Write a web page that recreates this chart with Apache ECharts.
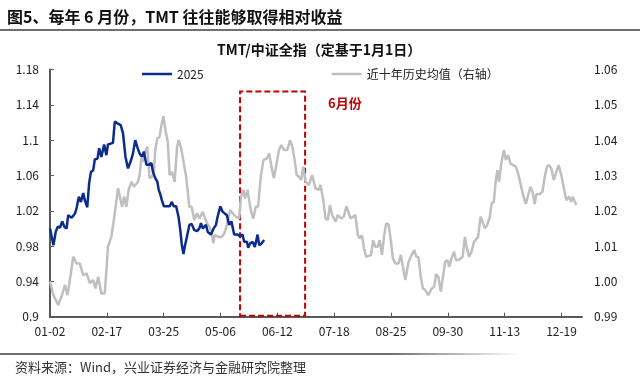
<!DOCTYPE html>
<html lang="zh">
<head>
<meta charset="utf-8">
<script src="https://cdn.jsdelivr.net/npm/echarts@6/dist/echarts.min.js"></script>
<title>TMT/中证全指</title>
</head>
<body style="margin: 0; background: #fff">
<div id="container" style="width: 640px; height: 377px"></div>
<script>
// x axis: trading-day index, labelled every 25 days
const tickDays = [0, 25, 50, 75, 100, 125, 150, 175, 200, 225];
const tickLabels = ['01-02', '02-17', '03-25', '05-06', '06-12', '07-18', '08-25', '09-30', '11-13', '12-19'];
const leftTicks = [0.9, 0.94, 0.98, 1.02, 1.06, 1.1, 1.14, 1.18];
const rightTicks = [0.99, 1.00, 1.01, 1.02, 1.03, 1.04, 1.05, 1.06];

// 2025 (left axis)
const blueDay = [0, 1.5, 2.5, 3.4, 4.4, 5.4, 6.3, 7.3, 8, 9.5, 11, 11.7, 12.7, 13.6, 14.6, 15.3, 16.4, 17.2, 18, 19,
  19.7, 20.9, 21.6, 22.6, 23.8, 24.8, 25.5, 26.7, 27.7, 28.5, 29.7, 31.1, 32.1, 33.2, 34.3, 35.5, 36.5, 37.5, 38.4, 39.4,
  40.4, 41.3, 42.4, 43.4, 44.6, 45.3, 46.3, 47.2, 47.8, 48.6, 49.2, 50.1, 51.6, 52.6, 53.6, 54.4, 55.5, 55.9, 56.6, 57.4,
  57.9, 58.7, 59.4, 60.1, 61.3, 62.3, 63.5, 64.7, 65.7, 66.4, 67.2, 67.9, 68.6, 69.4, 70.1, 70.8, 72, 73, 73.7, 74.9,
  75.9, 76.7, 77.8, 78.8, 79.8, 81, 82.5, 83.7, 84.7, 85.4, 86.6, 87.2, 88, 89.1, 90.1, 91.3, 92, 93, 94.2];
const blueValue = [1.000, 0.981, 0.996, 1.002, 1.001, 1.008, 1.002, 1.000, 1.015, 1.012, 1.017, 1.023, 1.036, 1.030, 1.040, 1.032, 1.024, 1.051, 1.064, 1.066,
  1.078, 1.079, 1.091, 1.081, 1.095, 1.083, 1.095, 1.096, 1.097, 1.121, 1.119, 1.117, 1.108, 1.081, 1.068, 1.076, 1.085, 1.100, 1.092, 1.085,
  1.081, 1.087, 1.072, 1.072, 1.074, 1.064, 1.057, 1.053, 1.044, 1.038, 1.032, 1.025, 1.025, 1.025, 1.030, 1.025, 1.025, 1.023, 1.012, 0.996,
  0.983, 0.971, 0.981, 0.989, 1.004, 1.005, 0.998, 0.997, 1.000, 1.006, 1.000, 1.002, 1.004, 0.996, 0.998, 0.993, 1.000, 1.004, 1.013, 1.025,
  1.019, 1.021, 1.015, 1.004, 1.008, 0.993, 0.993, 0.991, 0.993, 0.985, 0.985, 0.978, 0.983, 0.985, 0.979, 0.993, 0.981, 0.983, 0.987];

// 近十年历史均值 (right axis)
const avgDay = [0, 1.5, 3.6, 5.1, 6.6, 7.7, 9.2, 10.2, 11.7, 13.1, 14.6, 16.1, 17.5, 19, 20, 21.2, 22.6, 24.1, 25.5, 27,
  28.5, 29.9, 30.7, 31.7, 32.6, 33.6, 34.6, 35.8, 36.9, 38.7, 39.4, 40.2, 40.9, 41.6, 42.8, 43.8, 44.8, 45.7, 46.3, 47.2,
  48.2, 48.9, 49.9, 50.8, 51.8, 52.6, 53.6, 54.8, 55.9, 56.6, 57.7, 59.1, 59.9, 61.3, 62.3, 63.5, 64.7, 65.7, 67.2, 68.2,
  69.1, 70.1, 71.1, 71.8, 72.5, 74, 75.5, 76.7, 77.8, 79.3, 80.3, 81.8, 83.2, 84, 85.1, 85.8, 86.9, 87.6, 88.3, 89.4,
  90.5, 91.5, 92.7, 93.9, 95.4, 96.4, 97.4, 98.5, 99.7, 100.7, 101.7, 102.9, 104.4, 105.6, 106.6, 107.6, 108.5, 109.5, 110.5, 111.4,
  112.4, 113.9, 115.3, 116.8, 118.3, 119, 120.2, 121.2, 122.2, 123.1, 124.1, 125.6, 126.6, 128, 129.2, 130.4, 131.1, 132.2, 133.3, 134.3,
  135.4, 136.2, 137.2, 138, 139, 140.2, 141.2, 142.1, 143.1, 144.1, 145, 146, 147, 147.9, 148.9, 149.9, 150.8, 151.9, 153.3, 154.3,
  155.2, 156.3, 157.7, 158.7, 160.2, 161.1, 162.1, 163.1, 164, 165, 166.4, 167.9, 169, 169.8, 170.8, 171.9, 172.7, 173.8, 174.8, 175.6,
  176.6, 177.7, 178.6, 180, 181.5, 182.5, 183.2, 184.3, 185.4, 186.5, 187.3, 188.3, 189.4, 190.2, 191.3, 192.3, 193.5, 194.2, 195.2, 196.1,
  196.8, 197.5, 198.5, 199.6, 200.5, 201.5, 202.5, 203.7, 204.9, 205.9, 206.9, 208.1, 209.3, 210.3, 211.3, 212.2, 213.2, 213.9, 215.4, 216.6,
  217.6, 218.6, 219.5, 220.5, 221.6, 222.7, 223.7, 224.9, 225.9, 227.1, 228.3, 229.2, 230, 230.7, 231.5];
const avgValue = [1.0000, 0.9961, 0.9933, 0.9957, 0.9990, 0.9961, 1.0023, 1.0070, 1.0051, 1.0051, 1.0018, 1.0023, 0.9995, 1.0004, 0.9980, 1.0013, 0.9966, 0.9966, 1.0098, 1.0127,
  1.0193, 1.0264, 1.0268, 1.0211, 1.0240, 1.0211, 1.0259, 1.0282, 1.0268, 1.0282, 1.0301, 1.0348, 1.0339, 1.0362, 1.0381, 1.0292, 1.0296, 1.0310, 1.0372, 1.0405,
  1.0409, 1.0438, 1.0468, 1.0428, 1.0395, 1.0301, 1.0310, 1.0282, 1.0381, 1.0400, 1.0377, 1.0325, 1.0296, 1.0211, 1.0211, 1.0174, 1.0193, 1.0178, 1.0197, 1.0178,
  1.0164, 1.0155, 1.0141, 1.0108, 1.0131, 1.0126, 1.0126, 1.0136, 1.0160, 1.0202, 1.0193, 1.0183, 1.0178, 1.0240, 1.0259, 1.0235, 1.0259, 1.0230, 1.0202, 1.0178,
  1.0211, 1.0211, 1.0296, 1.0344, 1.0348, 1.0362, 1.0325, 1.0292, 1.0334, 1.0372, 1.0386, 1.0372, 1.0372, 1.0400, 1.0381, 1.0344, 1.0301, 1.0296, 1.0287, 1.0325,
  1.0282, 1.0273, 1.0301, 1.0263, 1.0259, 1.0273, 1.0230, 1.0178, 1.0174, 1.0216, 1.0188, 1.0169, 1.0188, 1.0178, 1.0183, 1.0213, 1.0211, 1.0178, 1.0183, 1.0188,
  1.0131, 1.0122, 1.0131, 1.0098, 1.0070, 1.0072, 1.0075, 1.0117, 1.0098, 1.0098, 1.0117, 1.0075, 1.0131, 1.0164, 1.0162, 1.0117, 1.0065, 1.0051, 1.0051, 1.0075,
  1.0042, 1.0004, 1.0055, 1.0070, 1.0089, 1.0070, 1.0068, 1.0013, 0.9980, 0.9976, 0.9961, 0.9980, 0.9985, 1.0021, 1.0013, 0.9971, 0.9976, 1.0056, 1.0060, 1.0042,
  1.0065, 1.0084, 1.0060, 1.0062, 1.0070, 1.0126, 1.0098, 1.0070, 1.0084, 1.0112, 1.0108, 1.0126, 1.0183, 1.0178, 1.0150, 1.0160, 1.0183, 1.0221, 1.0225, 1.0287,
  1.0315, 1.0282, 1.0334, 1.0372, 1.0344, 1.0358, 1.0334, 1.0329, 1.0325, 1.0306, 1.0278, 1.0244, 1.0219, 1.0244, 1.0268, 1.0254, 1.0219, 1.0247, 1.0247, 1.0254,
  1.0296, 1.0325, 1.0329, 1.0320, 1.0287, 1.0310, 1.0329, 1.0301, 1.0268, 1.0230, 1.0240, 1.0225, 1.0240, 1.0228, 1.0216];

// June box: day range and bottom/top (left axis)
const juneDays = [83.6, 112.2];
const juneBox = [0.901, 1.155];

let dom = document.getElementById('container');
let myChart = echarts.init(dom, null, { renderer: 'canvas' });
const font = '"Noto Sans CJK SC", "Noto Sans", sans-serif';
const axisColor = '#595959';

let option = {
    animation: false,
    textStyle: { fontFamily: font },
    title: [
        {
            text: '图5、每年 6 月份，TMT 往往能够取得相对收益',
            left: 2, top: 4,
            textStyle: { fontSize: 16, fontWeight: 'bold', color: '#111', fontFamily: font }
        },
        {
            text: 'TMT/中证全指（定基于1月1日）',
            left: 212, top: 38,
            textStyle: { fontSize: 14, fontWeight: 'bold', color: '#111', fontFamily: font }
        },
        {
            text: '资料来源：Wind，兴业证券经济与金融研究院整理',
            left: 10, top: 356,
            textStyle: { fontSize: 13, fontWeight: 'normal', color: '#333', fontFamily: font }
        }
    ],
    graphic: [
        { type: 'line', shape: { x1: 0, y1: 30, x2: 640, y2: 30 }, style: { stroke: '#404040', lineWidth: 1.5 } },
        {
            type: 'line', shape: { x1: 0, y1: 354, x2: 520, y2: 354 },
            style: {
                lineWidth: 1.5,
                stroke: new echarts.graphic.LinearGradient(0, 354, 520, 354, [
                    { offset: 0, color: '#404040' },
                    { offset: 0.75, color: '#404040' },
                    { offset: 1, color: 'rgba(64,64,64,0)' }
                ], true)
            }
        }
    ],
    legend: {
        left: 142, top: 68, padding: 0,
        icon: 'rect',
        itemWidth: 30, itemHeight: 2.5, itemGap: 128,
        textStyle: { fontSize: 12, color: '#222', fontFamily: font },
        data: ['2025', '近十年历史均值（右轴）']
    },
    grid: { left: 50, right: 58, top: 69.5, bottom: 60.3, containLabel: false },
    xAxis: {
        type: 'value',
        min: 0, max: 234,
        splitLine: { show: false },
        axisLine: { lineStyle: { color: axisColor, width: 2 } },
        axisTick: { inside: true, length: 4, lineStyle: { color: axisColor }, customValues: tickDays },
        axisLabel: {
            customValues: tickDays,
            margin: 9, fontSize: 12, color: '#222',
            formatter: v => tickLabels[tickDays.indexOf(v)]
        }
    },
    yAxis: [
        {
            type: 'value',
            min: 0.9, max: 1.18,
            splitLine: { show: false },
            axisLine: { show: true, lineStyle: { color: axisColor, width: 2 } },
            axisTick: { show: true, inside: true, length: 4, lineStyle: { color: axisColor }, customValues: leftTicks },
            axisLabel: {
                customValues: leftTicks,
                margin: 11, fontSize: 12, color: '#222',
                formatter: v => String(+v.toFixed(2))
            }
        },
        {
            type: 'value',
            min: 0.99, max: 1.06,
            position: 'right',
            splitLine: { show: false },
            axisLine: { show: false },
            axisTick: { show: false },
            axisLabel: {
                customValues: rightTicks,
                margin: 12, fontSize: 12, color: '#222',
                formatter: v => v.toFixed(2)
            }
        }
    ],
    series: [
        {
            name: '2025',
            type: 'line',
            yAxisIndex: 0,
            z: 4,
            symbol: 'none',
            lineStyle: { color: '#0B2C8C', width: 2.5 },
            itemStyle: { color: '#0B2C8C' },
            data: blueDay.map((d, i) => [d, blueValue[i]]),
            markArea: {
                silent: true,
                itemStyle: {
                    color: 'rgba(0,0,0,0)',
                    borderColor: '#C00000',
                    borderWidth: 2,
                    borderType: [6, 3]
                },
                label: {
                    show: true, position: [89, 6],
                    color: '#C00000', fontWeight: 'bold', fontSize: 13, fontFamily: font
                },
                data: [[
                    { name: '6月份', xAxis: juneDays[0], yAxis: juneBox[0] },
                    { xAxis: juneDays[1], yAxis: juneBox[1] }
                ]]
            }
        },
        {
            name: '近十年历史均值（右轴）',
            type: 'line',
            yAxisIndex: 1,
            z: 3,
            symbol: 'none',
            lineStyle: { color: '#BFBFBF', width: 2.5 },
            itemStyle: { color: '#BFBFBF' },
            data: avgDay.map((d, i) => [d, avgValue[i]])
        }
    ]
};

if (option && typeof option === 'object') {
    myChart.setOption(option);
}
</script>
</body>
</html>
